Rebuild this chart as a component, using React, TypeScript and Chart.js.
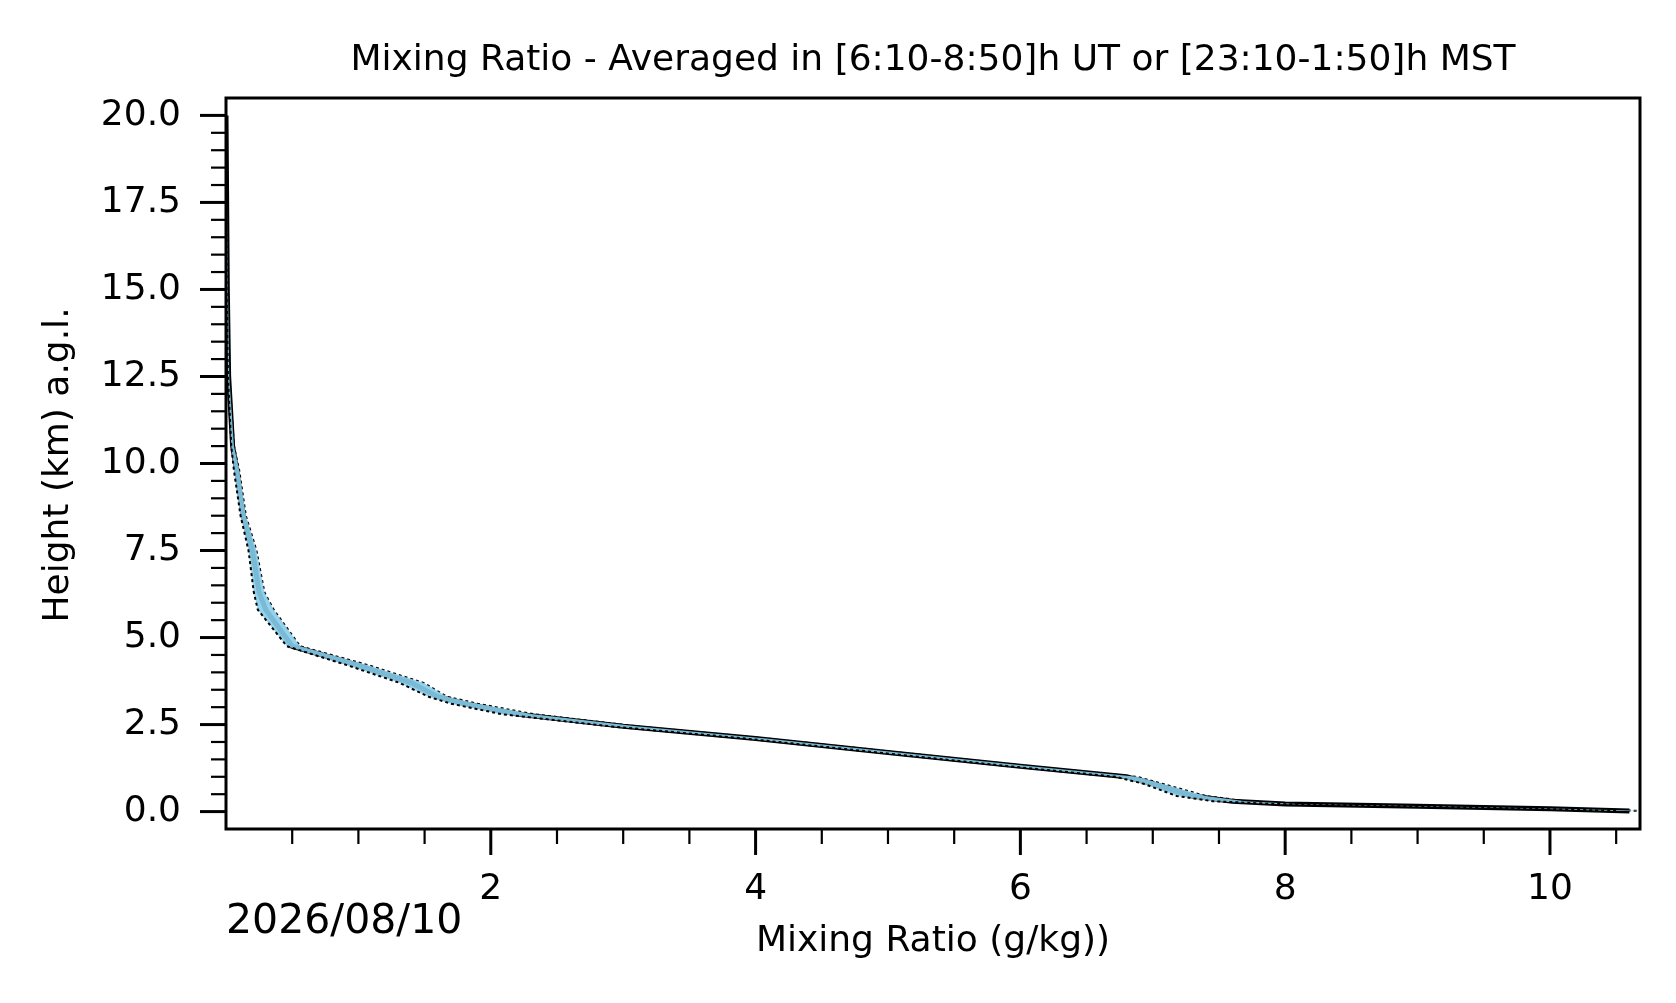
import React, { useEffect, useRef } from "react";
import { Chart, registerables } from "chart.js";
Chart.register(...registerables);

const heights = [0.02, 0.08, 0.15, 0.22, 0.3, 0.45, 0.8, 1.0, 1.3, 1.7, 2.1, 2.45, 2.8, 3.1, 3.3, 3.7, 4.2, 4.75, 5.8, 6.3, 7.5, 8.5, 9.8, 10.5, 12.5, 15, 20];
const meanMr = [10.6, 10.0, 9.0, 8.0, 7.6, 7.3, 7.0, 6.8, 6.0, 5.0, 4.0, 3.0, 2.2, 1.8, 1.6, 1.4, 1.0, 0.5, 0.3, 0.25, 0.2, 0.13, 0.08, 0.05, 0.02, 0.01, 0.0];
const lowMr = [10.5, 9.9, 8.9, 7.9, 7.45, 7.18, 6.93, 6.72, 5.92, 4.92, 3.92, 2.9, 2.08, 1.7, 1.53, 1.31, 0.92, 0.46, 0.24, 0.21, 0.17, 0.11, 0.06, 0.04, 0.015, 0.005, 0.0];
const highMr = [10.7, 10.1, 9.1, 8.1, 7.7, 7.4, 7.07, 6.88, 6.08, 5.08, 4.08, 3.1, 2.32, 1.9, 1.67, 1.49, 1.08, 0.56, 0.36, 0.29, 0.23, 0.15, 0.1, 0.06, 0.025, 0.015, 0.0];
const xMajor = [2, 4, 6, 8, 10];
const yMajor = [0, 2.5, 5, 7.5, 10, 12.5, 15, 17.5, 20];

const W = 1676, H = 1003;
const FONT = "'DejaVu Sans', sans-serif";

const pts = (xs: number[]) => xs.map((x, i) => ({ x, y: heights[i] }));

export default function App() {
  const ref = useRef<HTMLCanvasElement>(null);
  useEffect(() => {
    const deco = {
      id: "deco",
      afterDraw(c: any) {
        const ctx = c.ctx;
        const xs = c.scales.x, ys = c.scales.y, a = c.chartArea;
        ctx.save();
        ctx.strokeStyle = "#000";
        ctx.lineWidth = 3;
        ctx.strokeRect(a.left, a.top, a.right - a.left, a.bottom - a.top);
        ctx.fillStyle = "#000";
        for (let v = 0.5; v <= xs.max + 1e-9; v += 0.5) {
          const major = Math.abs(v / 2 - Math.round(v / 2)) < 1e-9;
          const px = xs.getPixelForValue(v);
          ctx.lineWidth = major ? 3 : 2.2;
          ctx.beginPath(); ctx.moveTo(px, a.bottom); ctx.lineTo(px, a.bottom + (major ? 26 : 15)); ctx.stroke();
        }
        ctx.font = `36px ${FONT}`;
        ctx.textAlign = "center"; ctx.textBaseline = "middle";
        xMajor.forEach(v => ctx.fillText(String(v), xs.getPixelForValue(v), 890));
        for (let v = 0; v <= 20 + 1e-9; v += 0.5) {
          const major = Math.abs(v / 2.5 - Math.round(v / 2.5)) < 1e-9;
          const py = ys.getPixelForValue(v);
          ctx.lineWidth = major ? 3 : 2.2;
          ctx.beginPath(); ctx.moveTo(a.left, py); ctx.lineTo(a.left - (major ? 26 : 15), py); ctx.stroke();
        }
        ctx.textAlign = "right";
        yMajor.forEach(v => ctx.fillText(v.toFixed(1), 181, ys.getPixelForValue(v)));
        ctx.textAlign = "center";
        ctx.font = `36px ${FONT}`;
        ctx.fillText("Mixing Ratio - Averaged in [6:10-8:50]h UT or [23:10-1:50]h MST", 933, 61);
        ctx.fillText("Mixing Ratio (g/kg))", 933, 942);
        ctx.textAlign = "left";
        ctx.font = `41px ${FONT}`;
        ctx.fillText("2026/08/10", 226, 922);
        ctx.translate(59, 465);
        ctx.rotate(-Math.PI / 2);
        ctx.textAlign = "center";
        ctx.font = `36px ${FONT}`;
        ctx.fillText("Height (km) a.g.l.", 0, 0);
        ctx.restore();
      },
    };
    const chart = new Chart(ref.current!, {
      type: "line",
      data: {
        datasets: [
          { data: pts(lowMr), borderColor: "#000", borderWidth: 2, borderDash: [3, 3], pointRadius: 0, fill: "+1", backgroundColor: "rgba(135,206,235,0.9)", tension: 0 },
          { data: pts(highMr), borderColor: "#000", borderWidth: 2, borderDash: [3, 3], pointRadius: 0, fill: false, tension: 0 },
          { data: pts(meanMr), borderColor: "#000", borderWidth: 5, pointRadius: 0, fill: false, tension: 0 },
        ],
      },
      options: {
        animation: false, responsive: false,
        layout: { padding: { top: 98, right: 36, left: 0, bottom: 0 } },
        plugins: { legend: { display: false }, tooltip: { enabled: false } },
        scales: {
          x: { type: "linear", min: 0, max: 10.68, grid: { display: false }, border: { display: false }, ticks: { display: false },
            afterFit: (s: any) => { s.height = 174; } },
          y: { type: "linear", min: -0.5, max: 20.5, grid: { display: false }, border: { display: false }, ticks: { display: false },
            afterFit: (s: any) => { s.width = 226; } },
        },
      },
      plugins: [deco],
    } as any);
    return () => chart.destroy();
  }, []);
  return (
    <div style={{ position: "absolute", left: 0, top: 0, width: W, height: H, background: "#fff" }}>
      <canvas ref={ref} width={W} height={H} style={{ width: W, height: H }} />
    </div>
  );
}
